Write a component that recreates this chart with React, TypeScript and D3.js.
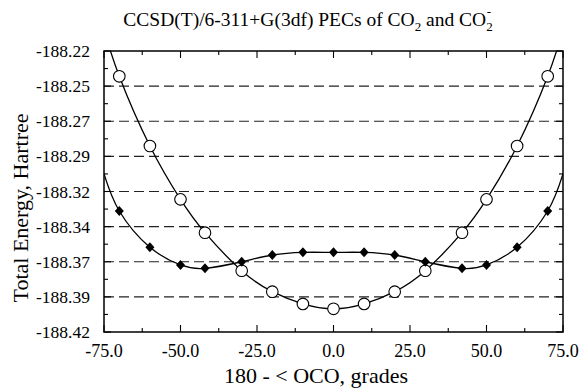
import React, { useRef, useEffect } from 'react';
import * as d3 from 'd3';

// bending angle, grades
const anglesCO2 = [-70, -60, -50, -42, -30, -20, -10, 0, 10, 20, 30, 42, 50, 60, 70];
const energyCO2 = [-188.238, -188.2876, -188.3256, -188.3493, -188.3764, -188.3913, -188.400, -188.4035,
  -188.400, -188.3913, -188.3764, -188.3493, -188.3256, -188.2876, -188.238];

const anglesCO2m = [-70, -60, -50, -42, -30, -20, -10, 0, 10, 20, 30, 42, 50, 60, 70];
const energyCO2m = [-188.3339, -188.3597, -188.3723, -188.3747, -188.370, -188.3652, -188.3633, -188.3633,
  -188.3633, -188.3652, -188.370, -188.3747, -188.3723, -188.3597, -188.3339];

// where the fitted curves meet the frame edges
const edgeAngles = [-75, 75];
const edgeCO2 = [-188.205, -188.205];
const edgeCO2m = [-188.3075, -188.3075];

const xTickValues = [-75, -50, -25, 0, 25, 50, 75];
const xTickLabels = ['-75.0', '-50.0', '-25.0', '0.0', '25.0', '50.0', '75.0'];
const yTickValues = [-188.22, -188.245, -188.27, -188.295, -188.32, -188.345, -188.37, -188.395, -188.42];
const yTickLabels = ['-188.22', '-188.25', '-188.27', '-188.29', '-188.32', '-188.34', '-188.37', '-188.39', '-188.42'];

function App() {
  const svgRef = useRef<SVGSVGElement>(null);

  useEffect(() => {
    const width = 579;
    const height = 389;
    const left = 104, right = 563, top = 51, bottom = 332;
    const font = "'Liberation Serif', Tinos, 'Times New Roman', Times, serif";

    const x = d3.scaleLinear().domain([-75, 75]).range([left, right]);
    const y = d3.scaleLinear().domain([-188.42, -188.22]).range([bottom, top]);

    const svg = d3.select(svgRef.current);
    svg.selectAll('*').remove();
    svg.attr('width', width).attr('height', height).attr('viewBox', [0, 0, width, height])
      .style('font-family', font);

    svg.append('rect').attr('width', width).attr('height', height).attr('fill', 'white');

    svg.append('defs').append('clipPath').attr('id', 'plotclip')
      .append('rect').attr('x', left).attr('y', top).attr('width', right - left).attr('height', bottom - top);

    // dashed grid
    svg.append('g')
      .selectAll('line')
      .data(yTickValues.slice(1, -1))
      .join('line')
      .attr('x1', left).attr('x2', right)
      .attr('y1', d => y(d)).attr('y2', d => y(d))
      .attr('stroke', '#222')
      .attr('stroke-width', 1.1)
      .attr('stroke-dasharray', '10,5');

    // ticks on all four sides
    const ticks = svg.append('g').attr('stroke', 'black').attr('stroke-width', 1.1);
    const xMinor = d3.range(-75, 75.01, 12.5);
    xMinor.forEach((v, i) => {
      const len = i % 2 === 0 ? 7 : 4;
      ticks.append('line').attr('x1', x(v)).attr('x2', x(v)).attr('y1', bottom).attr('y2', bottom - len);
      ticks.append('line').attr('x1', x(v)).attr('x2', x(v)).attr('y1', top).attr('y2', top + len);
    });
    const yMinor = d3.range(17).map(i => -188.22 - i * 0.0125);
    yMinor.forEach((v, i) => {
      const len = i % 2 === 0 ? 7 : 4;
      ticks.append('line').attr('y1', y(v)).attr('y2', y(v)).attr('x1', left).attr('x2', left + len);
      ticks.append('line').attr('y1', y(v)).attr('y2', y(v)).attr('x1', right).attr('x2', right - len);
    });

    // curves
    const line = d3.line<[number, number]>()
      .x(d => x(d[0]))
      .y(d => y(d[1]))
      .curve(d3.curveNatural);

    const withEdges = (ax: number[], ey: number[], edge: number[]) => {
      const pts: [number, number][] = ax.map((a, i) => [a, ey[i]]);
      return [[edgeAngles[0], edge[0]] as [number, number], ...pts, [edgeAngles[1], edge[1]] as [number, number]];
    };

    const curves = svg.append('g').attr('clip-path', 'url(#plotclip)');
    curves.append('path')
      .attr('d', line(withEdges(anglesCO2, energyCO2, edgeCO2)))
      .attr('fill', 'none').attr('stroke', 'black').attr('stroke-width', 1.3);
    curves.append('path')
      .attr('d', line(withEdges(anglesCO2m, energyCO2m, edgeCO2m)))
      .attr('fill', 'none').attr('stroke', 'black').attr('stroke-width', 1.3);

    // markers
    svg.append('g')
      .selectAll('circle')
      .data(anglesCO2)
      .join('circle')
      .attr('cx', d => x(d))
      .attr('cy', (d, i) => y(energyCO2[i]))
      .attr('r', 5.8)
      .attr('fill', 'white')
      .attr('stroke', 'black')
      .attr('stroke-width', 1.1);

    svg.append('g')
      .selectAll('path')
      .data(anglesCO2m)
      .join('path')
      .attr('transform', (d, i) => `translate(${x(d)},${y(energyCO2m[i])})`)
      .attr('d', 'M0,-5L4.5,0L0,5L-4.5,0Z')
      .attr('fill', 'black');

    // frame
    svg.append('rect')
      .attr('x', left).attr('y', top).attr('width', right - left).attr('height', bottom - top)
      .attr('fill', 'none').attr('stroke', 'black').attr('stroke-width', 1.5);

    // tick labels
    svg.append('g')
      .attr('font-size', 17.5).attr('text-anchor', 'end')
      .selectAll('text')
      .data(yTickValues)
      .join('text')
      .attr('x', left - 14)
      .attr('y', d => y(d) + 6)
      .text((d, i) => yTickLabels[i]);

    svg.append('g')
      .attr('font-size', 18).attr('text-anchor', 'middle')
      .selectAll('text')
      .data(xTickValues)
      .join('text')
      .attr('x', d => x(d))
      .attr('y', 357)
      .text((d, i) => xTickLabels[i]);

    // axis titles
    svg.append('text')
      .attr('font-size', 22).attr('text-anchor', 'middle')
      .attr('x', 316).attr('y', 383)
      .text('180 - < OCO, grades');

    svg.append('text')
      .attr('font-size', 22).attr('text-anchor', 'middle')
      .attr('transform', `translate(28,208) rotate(-90)`)
      .text('Total Energy, Hartree');

    // title with sub/superscripts
    const title = svg.append('text')
      .attr('font-size', 19.5).attr('text-anchor', 'middle')
      .attr('x', 308).attr('y', 26);
    title.append('tspan').text('CCSD(T)/6-311+G(3df) PECs of CO');
    title.append('tspan').attr('font-size', 13).attr('dy', 5).text('2');
    title.append('tspan').attr('dy', -5).text(' and CO');
    title.append('tspan').attr('font-size', 13).attr('dy', 5).text('2');
    title.append('tspan').attr('font-size', 13).attr('dy', -15).attr('dx', -6).text('-');
  }, []);

  return (
    <div style={{ position: 'absolute', left: 0, top: 0 }}>
      <svg ref={svgRef}></svg>
    </div>
  );
}

export default App;
